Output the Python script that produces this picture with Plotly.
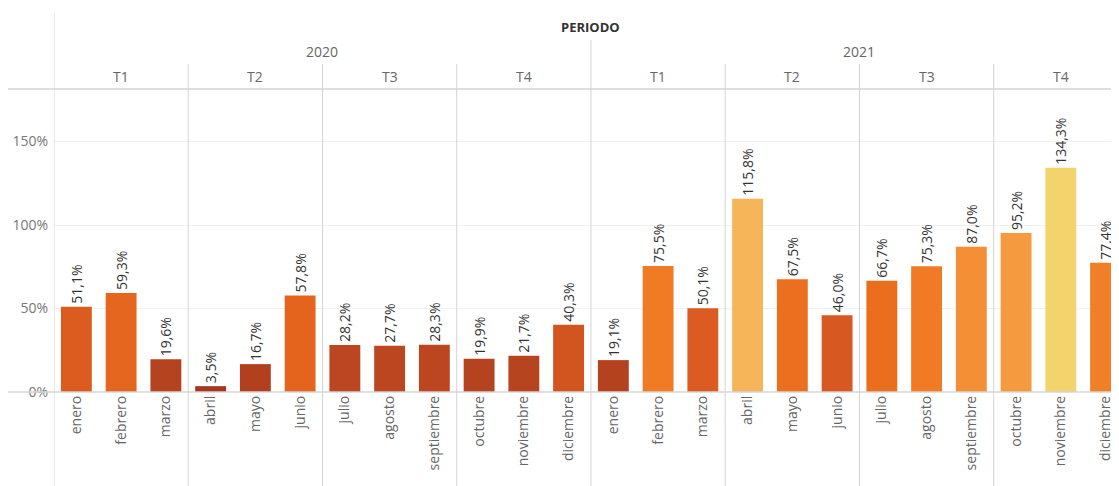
import plotly.graph_objects as go

# datos
anios = ["2020", "2021"]
trimestres = ["T1", "T2", "T3", "T4"]
meses = ["enero", "febrero", "marzo", "abril", "mayo", "junio",
         "julio", "agosto", "septiembre", "octubre", "noviembre", "diciembre"]
valores_2020 = [51.1, 59.3, 19.6, 3.5, 16.7, 57.8, 28.2, 27.7, 28.3, 19.9, 21.7, 40.3]
valores_2021 = [19.1, 75.5, 50.1, 115.8, 67.5, 46.0, 66.7, 75.3, 87.0, 95.2, 134.3, 77.4]

etiquetas_x = meses * len(anios)
valores = valores_2020 + valores_2021
pos = list(range(len(valores)))
textos = [f"{v:.1f}%".replace(".", ",") for v in valores]

escala = [
    [0.00, "#a5331f"], [0.15, "#b5431f"], [0.22, "#bd4720"], [0.30, "#d2541f"],
    [0.38, "#dc5c20"], [0.44, "#e5661e"], [0.50, "#eb6e1f"], [0.56, "#f07b24"],
    [0.65, "#f48f35"], [0.71, "#f59a3e"], [0.86, "#f7b55a"], [1.00, "#f3d46c"],
]

FONT = "Open Sans"
GRIS = "#d4d4d4"

fig = go.Figure()
fig.add_trace(go.Bar(
    x=pos, y=valores, width=0.69,
    marker=dict(color=valores, colorscale=escala, cmin=0, cmax=max(valores), line_width=0),
    text=textos, textposition="outside", textangle=-90, constraintext="none",
    textfont=dict(family=FONT, size=14, color="#333333"), cliponaxis=False,
    hovertemplate="%{text}<extra></extra>", showlegend=False,
))

# la página deja 8 px de margen al cuerpo: la figura empieza en (8, 8)
PH = 303  # alto del área de trazado en px
n = len(valores)
y_top_q = (392 - 64) / PH
y_top_year = (392 - 40) / PH
y_top_axis = (392 - 13) / PH
y_bot = -94 / PH
shapes = []
# separadores de trimestre / año
for i in range(3, n, 3):
    top = y_top_year if i == 12 else y_top_q
    shapes.append(dict(type="line", xref="x", yref="paper", x0=i - 0.5, x1=i - 0.5,
                       y0=y_bot, y1=top, line=dict(color=GRIS, width=1)))
# línea del eje izquierdo
shapes.append(dict(type="line", xref="x", yref="paper", x0=-0.5, x1=-0.5,
                   y0=y_bot, y1=y_top_axis, line=dict(color=GRIS, width=1)))
# líneas horizontales superior y base
for yy in (0, 1):
    shapes.append(dict(type="line", xref="paper", yref="paper", x0=-46 / 1065, x1=1,
                       y0=yy, y1=yy, line=dict(color=GRIS, width=1.5)))

annotations = [dict(text="<b>PERIODO</b>", x=(n - 1) / 2, y=(392 - 27) / PH, xref="x", yref="paper",
                    yanchor="middle", showarrow=False,
                    font=dict(family=FONT, size=13, color="#333333"))]
for a, anio in enumerate(anios):
    annotations.append(dict(text=anio, x=a * 12 + 5.5, y=(392 - 52) / PH, xref="x", yref="paper",
                            yanchor="middle", showarrow=False,
                            font=dict(family=FONT, size=14, color="#666666")))
    for t, tri in enumerate(trimestres):
        annotations.append(dict(text=tri, x=a * 12 + t * 3 + 1, y=(392 - 77) / PH, xref="x",
                                yref="paper", yanchor="middle", showarrow=False,
                                font=dict(family=FONT, size=14, color="#666666")))

fig.update_layout(
    width=1111, height=478,
    margin=dict(l=46, r=0, t=81, b=94),
    paper_bgcolor="white", plot_bgcolor="white",
    font=dict(family=FONT, color="#666666"),
    shapes=shapes, annotations=annotations, bargap=0.3,
)
fig.update_xaxes(
    range=[-0.5, 23.3], tickmode="array", tickvals=pos, ticktext=etiquetas_x,
    tickangle=-90, tickfont=dict(family=FONT, size=14, color="#666666"),
    showgrid=False, zeroline=False, showline=False, ticks="",
)
fig.update_yaxes(
    range=[0, 181.5], tickvals=[0, 50, 100, 150], ticktext=["0%", "50%", "100%", "150%"],
    tickfont=dict(family=FONT, size=14, color="#777777"), ticklabelstandoff=5,
    showgrid=True, gridcolor="#f0f0f0", zeroline=False, showline=False, ticks="",
)

fig.write_html("out.html")
